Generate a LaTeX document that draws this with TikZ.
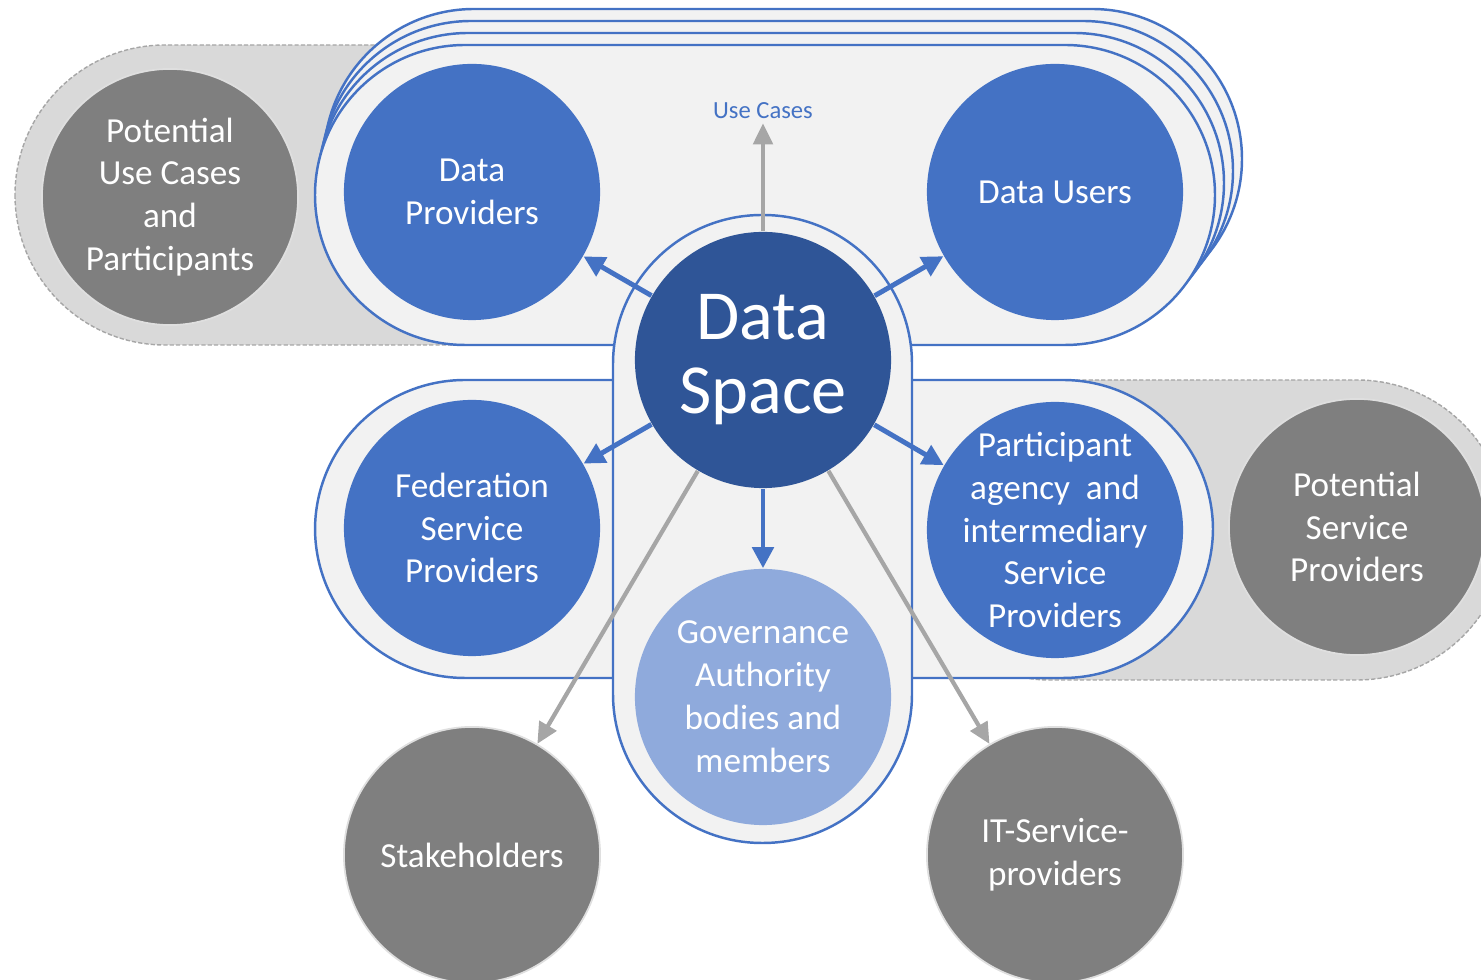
\documentclass[tikz,border=0pt]{standalone}
\usepackage{fontspec}
\setmainfont{Carlito}
\usetikzlibrary{arrows.meta}
\definecolor{ublue}{HTML}{4472C4}
\definecolor{udark}{HTML}{2F5597}
\definecolor{ulight}{HTML}{8FAADC}
\definecolor{ugray}{HTML}{7F7F7F}
\definecolor{uback}{HTML}{D9D9D9}
\definecolor{uband}{HTML}{F2F2F2}
\definecolor{uarrow}{HTML}{A6A6A6}

\begin{document}
\begin{tikzpicture}[x=0.01cm,y=-0.01cm,
    band/.style={fill=uband,draw=ublue,line width=0.7pt},
    backdrop/.style={fill=uback,draw=gray!70,line width=0.4pt,dash pattern=on 1.2pt off 0.6pt},
    circ/.style={circle,minimum size=2.56cm,inner sep=-8pt,text=white,align=center,font=\fontsize{10}{12.2}\selectfont},
    bluecirc/.style={circ,fill=ublue},
    graycirc/.style={circ,fill=ugray,draw=gray!25,line width=0.5pt},
    bluearrow/.style={draw=ublue,line width=1.4pt,-{Triangle[length=6pt,width=6pt]}},
    grayarrow/.style={draw=uarrow,line width=1.2pt,-{Triangle[length=6pt,width=5.5pt]}}]
            \useasboundingbox (0,0) rectangle (1481,980);
            \clip (0,0) rectangle (1481,980);
            \draw[backdrop,rounded corners=1.5cm] (15,45) rectangle (620,345);
            \draw[backdrop,rounded corners=1.5cm] (900,380) rectangle (1507,680);
            \foreach \k in {3,2,1,0}
                \draw[band,rounded corners=1.5cm] (315+3*\k,45-12*\k) rectangle (1215+9*\k,345-12*\k);
            \draw[band,rounded corners=1.5cm] (315,380) rectangle (1213,678);
            \draw[band,rounded corners=1.49cm] (613,215) rectangle (912,843);
            \node[graycirc] (puc) at (170,197) {Potential\\Use Cases\\and\\Participants};
            \node[bluecirc] (dp) at (472,192) {Data\\Providers};
            \node[bluecirc] (du) at (1055,192) {Data Users};
            \node[circ,fill=udark,font=\fontsize{20}{21}\selectfont] (ds) at (763,360) {Data\\Space};
            \node[bluecirc] (fsp) at (472,528) {Federation\\Service\\Providers};
            \node[bluecirc] (pisp) at (1055,530) {Participant\\agency\ \ and\\intermediary\\Service\\Providers};
            \node[graycirc] (psp) at (1357,527) {Potential\\Service\\Providers};
            \node[circ,fill=ulight] (gov) at (763,697) {Governance\\Authority\\bodies and\\members};
            \node[graycirc] (sh) at (472,855) {Stakeholders};
            \node[graycirc] (itsp) at (1055,855) {IT-Service-\\providers};
            \node[text=ublue,font=\fontsize{7}{8}\selectfont,inner sep=1pt] (uc) at (763,111) {Use Cases};
            \draw[grayarrow] (ds) -- (uc);
            \foreach \t in {dp,du,fsp,pisp,gov}
                \draw[bluearrow] (ds) -- (\t);
            \draw[grayarrow] (ds) -- (sh);
            \draw[grayarrow] (ds) -- (itsp);
        \end{tikzpicture}
\end{document}
